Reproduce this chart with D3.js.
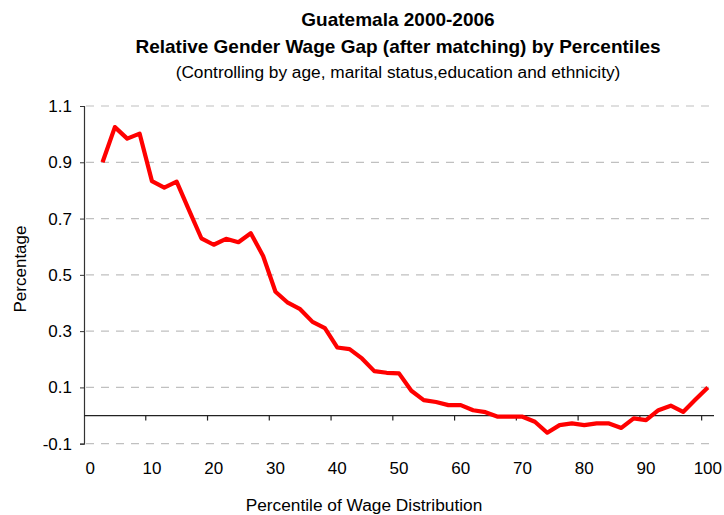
<!DOCTYPE html>
<html><head><meta charset="utf-8">
<script src="https://cdn.jsdelivr.net/npm/d3@7"></script>
<style>
body{margin:0;background:#fff}
svg{display:block}
text{font-family:"Liberation Sans",Arial,sans-serif;fill:#000}
</style>
</head><body>
<svg id="chart" width="724" height="515"></svg>
<script>
// Categories on the x axis (percentiles; category 0 has no observation)
const categories = [0,2,4,6,8,10,12,14,16,18,20,22,24,26,28,30,32,34,36,38,40,42,44,46,48,50,
  52,54,56,58,60,62,64,66,68,70,72,74,76,78,80,82,84,86,88,90,92,94,96,98,100];
// Percentiles with data
const percentiles = [2,4,6,8,10,12,14,16,18,20,22,24,26,28,30,32,34,36,38,40,42,44,46,48,50,
  52,54,56,58,60,62,64,66,68,70,72,74,76,78,80,82,84,86,88,90,92,94,96,98,100];
// Relative gender wage gap by percentile
const gapValues = [0.900,1.025,0.984,1.002,0.833,0.810,0.831,0.730,0.630,0.607,0.628,0.616,0.648,0.567,
  0.440,0.401,0.378,0.333,0.311,0.242,0.236,0.203,0.158,0.152,0.150,
  0.088,0.055,0.048,0.037,0.037,0.019,0.012,-0.004,-0.004,-0.004,-0.022,-0.061,-0.034,-0.028,-0.034,
  -0.028,-0.028,-0.044,-0.010,-0.016,0.019,0.035,0.013,0.057,0.100];
const xTickLabels = [0,10,20,30,40,50,60,70,80,90,100];
const xTickMarks = [10,20,30,40,50,60,70,80,90,100];
const yTicks = [-0.1,0.1,0.3,0.5,0.7,0.9,1.1];
const titleLines = ["Guatemala 2000-2006","Relative Gender Wage Gap (after matching) by Percentiles"];
const subtitle = "(Controlling by age, marital status,education and ethnicity)";
const xTitle = "Percentile of Wage Distribution";
const yTitle = "Percentage";

(function () {
const svg = d3.select("#chart");
const pLeft = 84, pRight = 714, pTop = 106, pBottom = 443.7;

const x = d3.scaleBand().domain(categories).range([pLeft, pRight]).padding(0);
const y = d3.scaleLinear().domain([-0.1, 1.1]).range([pBottom, pTop]);
const bw = x.bandwidth();

// gridlines
svg.append("g").selectAll("line").data(yTicks).join("line")
  .attr("x1", pLeft + 2).attr("x2", pRight)
  .attr("y1", d => y(d)).attr("y2", d => y(d))
  .attr("stroke", "#c0c0c0").attr("stroke-width", 1.2)
  .attr("stroke-dasharray", "8,7");

// y axis
const fmt = d => d3.format(".1f")(d).replace("\u2212", "-");
const yAxis = d3.axisLeft(y).tickValues(yTicks).tickFormat(fmt).tickSize(4).tickPadding(8);
const yg = svg.append("g").attr("transform", `translate(${pLeft},0)`).call(yAxis);
yg.select(".domain").attr("stroke", "#333").attr("stroke-width", 1.2);
yg.selectAll(".tick line").attr("stroke", "#333");
yg.selectAll(".tick text").style("font-size", "17px").style("font-family", "'Liberation Sans',Arial,sans-serif").attr("fill", "#000");

// x axis at zero
const y0 = y(0);
svg.append("line").attr("x1", pLeft).attr("x2", pRight).attr("y1", y0).attr("y2", y0)
  .attr("stroke", "#222").attr("stroke-width", 1.2);
svg.append("g").selectAll("line").data(xTickMarks).join("line")
  .attr("x1", d => x(d)).attr("x2", d => x(d))
  .attr("y1", y0).attr("y2", y0 + 5)
  .attr("stroke", "#222").attr("stroke-width", 1.2);
svg.append("g").selectAll("text").data(xTickLabels).join("text")
  .attr("x", d => x(d) + bw / 2).attr("y", 474)
  .attr("text-anchor", "middle").style("font-size", "17px")
  .text(d => d);

// line
const line = d3.line().x((d, i) => x(percentiles[i]) + bw / 2).y(d => y(d));
svg.append("path").datum(gapValues)
  .attr("d", line).attr("fill", "none")
  .attr("stroke", "#ff0000").attr("stroke-width", 4.2)
  .attr("stroke-linejoin", "round");

// titles
svg.append("text").attr("x", 398).attr("y", 26).attr("text-anchor", "middle")
  .style("font-size", "19px").style("font-weight", "bold").text(titleLines[0]);
svg.append("text").attr("x", 398).attr("y", 53).attr("text-anchor", "middle")
  .style("font-size", "19px").style("font-weight", "bold").text(titleLines[1]);
svg.append("text").attr("x", 398).attr("y", 78).attr("text-anchor", "middle")
  .style("font-size", "17.3px").text(subtitle);

// axis titles
svg.append("text").attr("x", 364).attr("y", 511).attr("text-anchor", "middle")
  .style("font-size", "17.3px").text(xTitle);
svg.append("text").attr("transform", "translate(26,269) rotate(-90)")
  .attr("text-anchor", "middle").style("font-size", "17px").text(yTitle);
})();
</script>
</body></html>
